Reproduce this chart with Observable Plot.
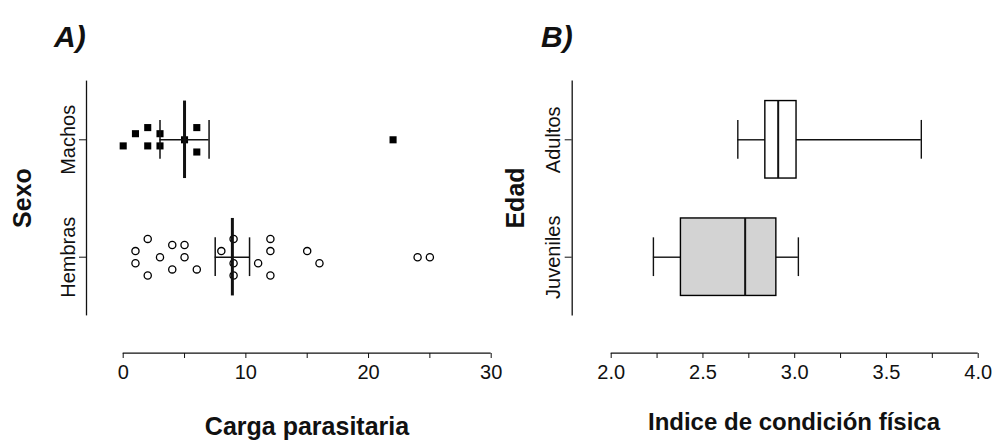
<!DOCTYPE html>
<html>
<head>
<meta charset="utf-8">
<script src="https://cdn.jsdelivr.net/npm/d3@7"></script>
<script src="https://cdn.jsdelivr.net/npm/@observablehq/plot@0.6"></script>
<style>
  html, body { margin: 0; padding: 0; background: #fff; }
  #fig { position: relative; width: 994px; height: 443px; overflow: hidden; font-family: "Liberation Sans", Arial, sans-serif; color: #111; }
  #fig svg { position: absolute; top: 0; }
  .lbl { position: absolute; white-space: nowrap; line-height: 1; font-weight: bold; }
  .panel { font-size: 30px; font-style: italic; }
  .ytitle { font-size: 25px; transform: translate(-50%, -50%) rotate(-90deg); }
  .xtitle { font-size: 24px; transform: translateX(-50%); }
</style>
</head>
<body>
<div id="fig">
  <div class="lbl panel" style="left:54px; top:22px;">A)</div>
  <div class="lbl panel" style="left:541px; top:22px;">B)</div>
  <div class="lbl ytitle" style="left:22px; top:198px;">Sexo</div>
  <div class="lbl ytitle" style="left:515px; top:198px;">Edad</div>
  <div class="lbl xtitle" style="left:307px; top:414px; font-size:25px;">Carga parasitaria</div>
  <div class="lbl xtitle" style="left:794px; top:410px;">Indice de condición física</div>
</div>
<script>
// ---- A) parasite load by sex (stripchart with mean ± SE) ----
const sexo = ["Hembras", "Machos"];                 // y = 1, 2
const machosCarga = [0, 1, 2, 2, 3, 3, 5, 6, 6, 22];
const machosFila  = [-1, 1, 2, -1, 1, -1, 0, 2, -2, 0];   // stacking slot of each point
const hembrasCarga = [1, 1, 2, 2, 3, 4, 4, 5, 5, 6, 8, 9, 9, 9, 11, 12, 12, 12, 15, 16, 24, 25];
const hembrasFila  = [1, -1, 3, -3, 0, 2, -2, 2, 0, -2, 1, 3, -1, -3, -1, 3, 1, -3, 1, -1, 0, 0];
const mediaCarga = [8.9, 5.0];                      // Hembras, Machos
const eeCarga    = [1.4, 2.0];
const ticksCarga  = [0, 5, 10, 15, 20, 25, 30];
const labelsCarga = [0, 10, 20, 30];

// ---- B) body condition index by age (box plots) ----
const edad = ["Juveniles", "Adultos"];              // y = 1, 2
const icfMin = [2.23, 2.69];
const icfQ1  = [2.38, 2.84];
const icfMed = [2.73, 2.91];
const icfQ3  = [2.90, 3.01];
const icfMax = [3.02, 3.69];
const ticksIcf  = [2.0, 2.25, 2.5, 2.75, 3.0, 3.25, 3.5, 3.75, 4.0];
const labelsIcf = [2.0, 2.5, 3.0, 3.5, 4.0];

const STEP = 0.052;            // vertical spacing between stacked points (category units)
const HALF = 0.33;             // half height of boxes and mean bars
const CAP = 0.165;             // half height of whisker / error caps
const fig = document.getElementById("fig");

const common = {
  width: 497, height: 443,
  marginTop: 80, marginBottom: 90, marginRight: 6,
  y: {domain: [0.5, 2.5], range: [315.4, 80.6]},
  style: {fontFamily: "'Liberation Sans', Arial, sans-serif", fontSize: "20px", color: "#111", background: "transparent", overflow: "visible"}
};

// Panel A
const machos = machosCarga.map((c, i) => ({carga: c, y: 2 + machosFila[i] * STEP}));
const hembras = hembrasCarga.map((c, i) => ({carga: c, y: 1 + hembrasFila[i] * STEP}));
const resumen = mediaCarga.map((m, i) => ({y: i + 1, m, lo: m - eeCarga[i], hi: m + eeCarga[i]}));

const plotA = Plot.plot({
  ...common,
  marginLeft: 86,
  x: {domain: [0, 30], range: [122.7, 490.7]},
  marks: [
    Plot.ruleX([ticksCarga[0]], {y1: 0.5, y2: 2.5, dx: -36.7, strokeWidth: 1.3}),
    Plot.ruleY([0.5], {x1: ticksCarga[0], x2: ticksCarga[ticksCarga.length - 1], dy: 37.3, strokeWidth: 1.3}),
    Plot.axisY({ticks: [1, 2], tickFormat: (d) => sexo[d - 1], tickRotate: -90, tickSize: 7, tickPadding: 5, fontSize: 20, label: null}),
    Plot.axisX({ticks: ticksCarga, tickFormat: (d) => labelsCarga.includes(d) ? String(d) : "", tickSize: 5, tickPadding: 6, fontSize: 20, label: null}),
    Plot.dot(machos, {x: "carga", y: "y", symbol: "square", r: 4, fill: "#000", stroke: "none"}),
    Plot.dot(hembras, {x: "carga", y: "y", r: 3.6, fill: "none", stroke: "#000", strokeWidth: 1.3}),
    Plot.ruleY(resumen, {y: "y", x1: "lo", x2: "hi", strokeWidth: 1.5}),
    Plot.ruleX(resumen, {x: "lo", y1: (d) => d.y - CAP, y2: (d) => d.y + CAP, strokeWidth: 1.5}),
    Plot.ruleX(resumen, {x: "hi", y1: (d) => d.y - CAP, y2: (d) => d.y + CAP, strokeWidth: 1.5}),
    Plot.ruleX(resumen, {x: "m", y1: (d) => d.y - HALF, y2: (d) => d.y + HALF, strokeWidth: 3})
  ]
});
plotA.style.left = "0px";
fig.appendChild(plotA);

// Panel B
const cajas = edad.map((e, i) => ({
  y: i + 1, min: icfMin[i], q1: icfQ1[i], med: icfMed[i], q3: icfQ3[i], max: icfMax[i],
  fill: e === "Juveniles" ? "#d3d3d3" : "#ffffff"
}));

const plotB = Plot.plot({
  ...common,
  marginLeft: 74.7,
  x: {domain: [2, 4], range: [113.7, 480.7]},
  color: {type: "identity"},
  marks: [
    Plot.ruleX([ticksIcf[0]], {y1: 0.5, y2: 2.5, dx: -39, strokeWidth: 1.3}),
    Plot.ruleY([0.5], {x1: ticksIcf[0], x2: ticksIcf[ticksIcf.length - 1], dy: 37.3, strokeWidth: 1.3}),
    Plot.axisY({ticks: [1, 2], tickFormat: (d) => edad[d - 1], tickRotate: -90, tickSize: 7, tickPadding: 5, fontSize: 20, label: null}),
    Plot.axisX({ticks: ticksIcf, tickFormat: (d) => labelsIcf.includes(d) ? d3.format(".1f")(d) : "", tickSize: 5, tickPadding: 6, fontSize: 20, label: null}),
    Plot.ruleY(cajas, {y: "y", x1: "min", x2: "q1", strokeWidth: 1.4}),
    Plot.ruleY(cajas, {y: "y", x1: "q3", x2: "max", strokeWidth: 1.4}),
    Plot.ruleX(cajas, {x: "min", y1: (d) => d.y - CAP, y2: (d) => d.y + CAP, strokeWidth: 1.4}),
    Plot.ruleX(cajas, {x: "max", y1: (d) => d.y - CAP, y2: (d) => d.y + CAP, strokeWidth: 1.4}),
    Plot.rect(cajas, {x1: "q1", x2: "q3", y1: (d) => d.y - HALF, y2: (d) => d.y + HALF, fill: "fill", stroke: "#000", strokeWidth: 1.4}),
    Plot.ruleX(cajas, {x: "med", y1: (d) => d.y - HALF, y2: (d) => d.y + HALF, strokeWidth: 2})
  ]
});
plotB.style.left = "497px";
fig.appendChild(plotB);
</script>
</body>
</html>
